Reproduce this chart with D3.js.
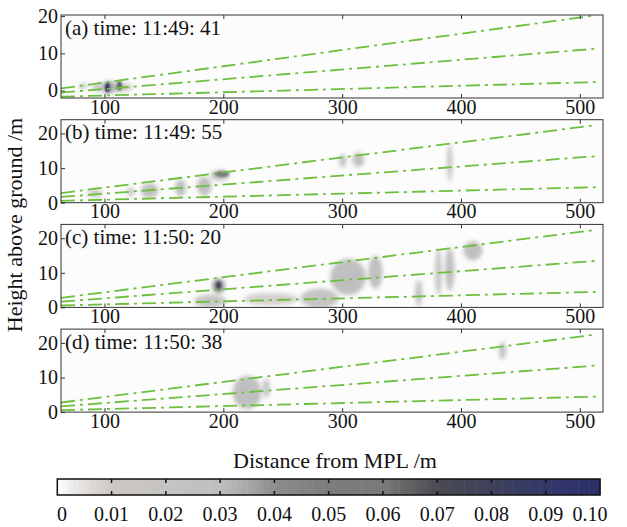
<!DOCTYPE html>
<html>
<head>
<meta charset="utf-8">
<script src="https://cdn.jsdelivr.net/npm/d3@7"></script>
<style>
  body { margin: 0; background: #fff; }
  svg { display: block; }
</style>
</head>
<body>
<div id="chart"></div>
<script>
// four lidar scans (distance vs height) with three beam lines and a shared colorbar

const panelLabels = [
  '(a) time: 11:49: 41',
  '(b) time: 11:49: 55',
  '(c) time: 11:50: 20',
  '(d) time: 11:50: 38',
];
const distTicks = [100, 200, 300, 400, 500];
const heightTicks = [0, 10, 20];
const heightDomains = [[-2, 20.3], [0, 24], [0, 24], [0, 24]];

// beam elevation angles (deg) and height of the beam origin per panel
const beamAngles = [0.5, 1.5, 2.5];
const beamOffsets = [-2.2, 0, 0, 0];
const beamRange = [63.4, 514];

// patches: [distance, height, width m, depth m, value]
const patchesA = [
  [107, 0.9, 34, 2.6, 0.012],
  [82, 1.2, 6, 1.4, 0.03],
  [93, 0.6, 6, 0.9, 0.022],
  [104, 0.9, 10, 3.0, 0.035],
  [102.5, 0.8, 4, 2.6, 0.095],
  [112.6, 1.3, 4.5, 2.6, 0.065],
];
const patchesB = [
  [92, 2.7, 12, 2.4, 0.012],
  [122, 3.1, 6, 2.8, 0.02],
  [138, 3.5, 15, 4.2, 0.028],
  [164, 4.3, 9, 5.0, 0.028],
  [184, 4.8, 12, 5.6, 0.028],
  [197, 7.9, 16, 3.0, 0.028],
  [199, 8.3, 12, 1.8, 0.055],
  [300.5, 12.1, 6, 4.0, 0.024],
  [313.5, 12.4, 10, 4.2, 0.028],
  [390.5, 11.5, 4.5, 11, 0.02],
];
const patchesC = [
  [189, 1.8, 27, 3.8, 0.018],
  [196, 6.2, 10, 4.2, 0.045],
  [196, 6.4, 4, 2.0, 0.08],
  [240, 2.4, 46, 3.6, 0.008],
  [281, 2.6, 32, 5.6, 0.02],
  [305, 8.8, 30, 10.5, 0.028],
  [328, 10.1, 12, 9.5, 0.028],
  [364.5, 4.2, 6, 7.6, 0.024],
  [381, 10.1, 5.5, 13.4, 0.024],
  [390.5, 11, 8, 12.4, 0.028],
  [410, 16.4, 16, 5.6, 0.028],
];
const patchesD = [
  [220, 5.7, 24, 9.6, 0.028],
  [236, 6.9, 6, 5.6, 0.024],
  [435, 17.8, 6, 5.2, 0.024],
];
const panelPatches = [patchesA, patchesB, patchesC, patchesD];

// colorbar
const cbTicks = [0, 0.01, 0.02, 0.03, 0.04, 0.05, 0.06, 0.07, 0.08, 0.09, 0.10];
const cbStops = [0, 0.002, 0.005, 0.008, 0.01, 0.02, 0.03, 0.035, 0.04, 0.05, 0.06, 0.065, 0.07, 0.08, 0.09, 0.1];
const cbColors = ['#ffffff', '#f2f1f0', '#e2dfdc', '#d4d0cd', '#cbc7c4', '#c6c4c2', '#bdbebf', '#a8a9ab',
  '#8d8d8f', '#7c7c7c', '#7a7a7b', '#626265', '#4a4a51', '#3e4159', '#33376a', '#2b2f68'];

const W = 627, H = 527;
const plotLeft = 61, plotRight = 603;
const panelH = 83, panelStep = 104.7, firstTop = 15;
const FONT = '"Liberation Serif"';

const svg = d3.select('#chart').append('svg')
  .attr('width', W).attr('height', H);

const defs = svg.append('defs');
// wide blur for faint patches, tighter one for strong cores
[['soft', 2.2], ['tight', 1.2]].forEach(([id, sd]) => {
  defs.append('filter').attr('id', id)
    .attr('x', '-100%').attr('y', '-100%').attr('width', '300%').attr('height', '300%')
    .append('feGaussianBlur').attr('stdDeviation', sd);
});

const color = d3.scaleLinear().domain(cbStops).range(cbColors).clamp(true);
const x = d3.scaleLinear().domain([63.4, 519.5]).range([plotLeft, plotRight]);

function styleText(sel, size) {
  sel.style('font-family', FONT).attr('font-size', size).attr('fill', '#111');
}

panelLabels.forEach((label, i) => {
  const top = firstTop + i * panelStep;
  const y = d3.scaleLinear().domain(heightDomains[i]).range([top + panelH, top]);
  const g = svg.append('g');

  defs.append('clipPath').attr('id', 'clip' + i)
    .append('rect')
    .attr('x', plotLeft).attr('y', top)
    .attr('width', plotRight - plotLeft).attr('height', panelH);

  g.append('rect')
    .attr('x', plotLeft).attr('y', top)
    .attr('width', plotRight - plotLeft).attr('height', panelH)
    .attr('fill', '#fcfcfc');

  const inner = g.append('g').attr('clip-path', `url(#clip${i})`);

  inner.append('g')
    .selectAll('ellipse')
    .data(panelPatches[i])
    .enter()
    .append('ellipse')
    .attr('cx', d => x(d[0]))
    .attr('cy', d => y(d[1]))
    .attr('rx', d => Math.abs(x(d[0] + d[2] / 2) - x(d[0])))
    .attr('ry', d => Math.abs(y(d[1] + d[3] / 2) - y(d[1])))
    .attr('fill', d => color(d[4]))
    .attr('filter', d => d[4] >= 0.05 ? 'url(#tight)' : 'url(#soft)');

  const beam = d3.line()
    .x(d => x(d[0]))
    .y(d => y(d[1]));
  inner.selectAll('path.beam')
    .data(beamAngles)
    .enter()
    .append('path')
    .attr('class', 'beam')
    .attr('d', a => beam(beamRange.map(r => [r, r * Math.tan(a * Math.PI / 180) + beamOffsets[i]])))
    .attr('fill', 'none')
    .attr('stroke', '#6dbf3e')
    .attr('stroke-width', 1.8)
    .attr('stroke-dasharray', '14,5,3,5');

  // axes with inward ticks
  g.append('g')
    .attr('transform', `translate(0,${top + panelH})`)
    .call(d3.axisBottom(x).tickValues(distTicks).tickSizeInner(-4).tickSizeOuter(0).tickPadding(1.5))
    .call(a => a.select('.domain').remove())
    .call(a => styleText(a.selectAll('text'), 20))
    .call(a => a.selectAll('line').attr('stroke', '#333'));
  g.append('g')
    .attr('transform', `translate(0,${top})`)
    .call(d3.axisTop(x).tickValues(distTicks).tickSizeInner(-4).tickSizeOuter(0).tickFormat(''))
    .call(a => a.select('.domain').remove())
    .call(a => a.selectAll('line').attr('stroke', '#333'));
  g.append('g')
    .attr('transform', `translate(${plotLeft},0)`)
    .call(d3.axisLeft(y).tickValues(heightTicks).tickSizeInner(-4).tickSizeOuter(0).tickPadding(3))
    .call(a => a.select('.domain').remove())
    .call(a => styleText(a.selectAll('text'), 20))
    .call(a => a.selectAll('line').attr('stroke', '#333'));

  g.append('rect')
    .attr('x', plotLeft).attr('y', top)
    .attr('width', plotRight - plotLeft).attr('height', panelH)
    .attr('fill', 'none').attr('stroke', '#333').attr('stroke-width', 1);

  g.append('text')
    .attr('x', plotLeft + 4).attr('y', top + 19.5)
    .call(s => styleText(s, 21))
    .text(label);
});

svg.append('text')
  .attr('transform', 'translate(22,225) rotate(-90)')
  .attr('text-anchor', 'middle')
  .call(s => styleText(s, 22))
  .text('Height above ground /m');

svg.append('text')
  .attr('x', 335).attr('y', 468)
  .attr('text-anchor', 'middle')
  .call(s => styleText(s, 22))
  .text('Distance from MPL /m');

// colorbar
const cbX = d3.scaleLinear().domain([0, 0.1]).range([57.3, 600]);
const cbTop = 479, cbH = 16;
const steps = d3.range(0, 100).map(k => k * 0.001);
const cb = svg.append('g');
cb.selectAll('rect.step')
  .data(steps)
  .enter()
  .append('rect')
  .attr('class', 'step')
  .attr('x', d => cbX(d))
  .attr('y', cbTop)
  .attr('width', cbX(0.001) - cbX(0) + 0.5)
  .attr('height', cbH)
  .attr('fill', d => color(d + 0.0005));
cb.append('rect')
  .attr('x', cbX(0)).attr('y', cbTop)
  .attr('width', cbX(0.1) - cbX(0)).attr('height', cbH)
  .attr('fill', 'none').attr('stroke', '#111').attr('stroke-width', 1.5);
cb.selectAll('line.tt')
  .data(cbTicks.slice(1, -1))
  .enter()
  .append('line')
  .attr('class', 'tt')
  .attr('x1', d => cbX(d)).attr('x2', d => cbX(d))
  .attr('y1', cbTop).attr('y2', cbTop + 4)
  .attr('stroke', '#111').attr('stroke-width', 1.5);
cb.selectAll('line.tb')
  .data(cbTicks.slice(1, -1))
  .enter()
  .append('line')
  .attr('class', 'tb')
  .attr('x1', d => cbX(d)).attr('x2', d => cbX(d))
  .attr('y1', cbTop + cbH - 4).attr('y2', cbTop + cbH)
  .attr('stroke', '#111').attr('stroke-width', 1.5);
cb.selectAll('text.cbl')
  .data(cbTicks)
  .enter()
  .append('text')
  .attr('class', 'cbl')
  .attr('x', d => Math.min(Math.max(cbX(d), 62), 590))
  .attr('y', 521)
  .attr('text-anchor', 'middle')
  .call(s => styleText(s, 20))
  .text(d => d === 0 ? '0' : d3.format('.2f')(d));
</script>
</body>
</html>
